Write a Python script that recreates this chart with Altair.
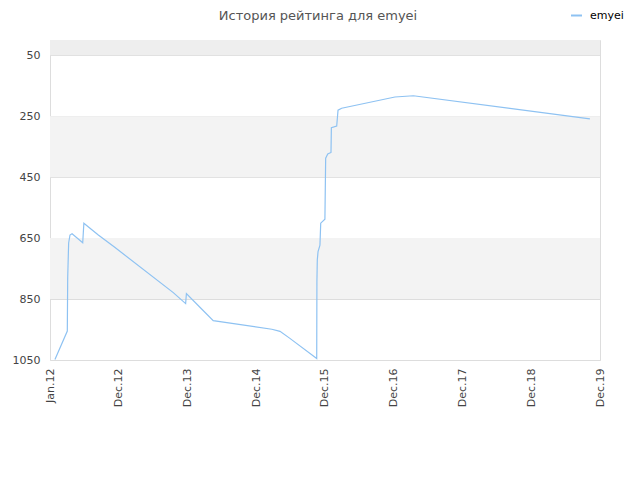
import altair as alt
import pandas as pd

# Rating history (date, rank)
dates = [
    "2012-01-27", "2012-04-01", "2012-04-03", "2012-04-08", "2012-04-15",
    "2012-04-26", "2012-06-21", "2012-06-27", "2012-09-11", "2012-12-08",
    "2013-10-10", "2013-12-14", "2013-12-18", "2014-02-27", "2014-05-08",
    "2015-03-12", "2015-04-24", "2015-06-15", "2015-11-03", "2015-11-04",
    "2015-11-06", "2015-11-10", "2015-11-20", "2015-11-24", "2015-12-16",
    "2015-12-20", "2015-12-31", "2016-01-17", "2016-01-19", "2016-02-16",
    "2016-02-23", "2016-03-13", "2016-12-18", "2017-03-25", "2019-10-09",
]
ratings = [
    1048, 955, 781, 666, 640,
    636, 665, 601, 640, 681,
    829, 865, 832, 877, 921,
    949, 956, 979, 1045, 793,
    722, 694, 673, 601, 588,
    388, 374, 369, 288, 282,
    230, 224, 187, 183, 259,
]
series_name = "emyei"

# Background bands (rank ranges)
band_start = [0, 250, 650]
band_end = [50, 450, 850]
band_color = ["#eeeeee", "#f3f3f3", "#f3f3f3"]

# Axis ticks
y_ticks = [50, 250, 450, 650, 850, 1050]
x_tick_dates = [
    (2012, 1, 1), (2012, 12, 27), (2013, 12, 23), (2014, 12, 20),
    (2015, 12, 16), (2016, 12, 11), (2017, 12, 8), (2018, 12, 4), (2019, 12, 1),
]

df = pd.DataFrame({"date": dates, "rating": ratings, "series": series_name})
bands = pd.DataFrame({"y": band_start, "y2": band_end, "c": band_color})

x_values = [alt.DateTime(year=y, month=m, date=d, utc=True) for (y, m, d) in x_tick_dates]

yscale = alt.Scale(domain=[0, 1050], reverse=True, nice=False, zero=False)
xscale = alt.Scale(
    type="utc",
    domain=[alt.DateTime(year=2012, month=1, date=1, utc=True),
            alt.DateTime(year=2019, month=12, date=1, utc=True)],
    nice=False,
)

band_layer = alt.Chart(bands).mark_rect().encode(
    x=alt.value(0),
    x2=alt.value(550),
    y=alt.Y("y:Q", scale=yscale),
    y2="y2:Q",
    fill=alt.Fill("c:N", scale=None, legend=None),
)

line = alt.Chart(df).mark_line(strokeWidth=1.2).encode(
    x=alt.X(
        "date:T",
        scale=xscale,
        axis=alt.Axis(
            title=None,
            values=x_values,
            labelExpr="utcFormat(datum.value, '%b.%y')",
            labelAngle=270,
            labelFontSize=11,
            labelColor="#444444",
            labelFont="DejaVu Sans",
            labelPadding=8,
            ticks=False,
            domain=False,
            grid=False,
        ),
    ),
    y=alt.Y(
        "rating:Q",
        scale=yscale,
        axis=alt.Axis(
            title=None,
            values=y_ticks,
            format="d",
            labelFontSize=11,
            labelColor="#444444",
            labelFont="DejaVu Sans",
            labelPadding=10,
            ticks=False,
            domain=False,
            grid=True,
            gridColor="#dddddd",
        ),
    ),
    color=alt.Color(
        "series:N",
        scale=alt.Scale(range=["#8ec2f2"]),
        legend=alt.Legend(
            title=None,
            orient="none",
            legendX=520,
            legendY=-31,
            symbolType="stroke",
            symbolSize=120,
            symbolStrokeWidth=2,
            labelOffset=7,
            labelFontSize=11,
            labelFont="DejaVu Sans",
            labelColor="#000000",
        ),
    ),
)

chart = alt.layer(band_layer, line).properties(
    width=550,
    height=320,
    title=alt.TitleParams(
        "История рейтинга для emyei",
        fontSize=13,
        font="DejaVu Sans",
        fontWeight="normal",
        color="#555555",
        offset=18,
        dy=32,
        dx=-7,
    ),
    autosize=alt.AutoSizeParams(type="none"),
    padding={"left": 42, "top": 32, "right": 30, "bottom": 80},
).configure_view(stroke="#d8d8d8", strokeWidth=1).configure(background="white")

chart.save("out.html", embed_options={"renderer": "svg", "actions": False})
